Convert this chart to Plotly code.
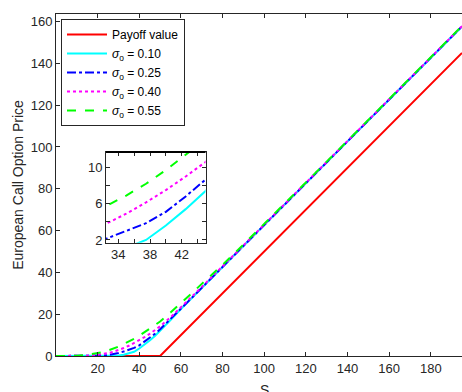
import plotly.graph_objects as go

# ---------------- data ----------------
S = [0, 5, 10, 15, 20, 22.5, 25, 27.5, 30, 32.5, 35, 37.5, 40, 42.5, 45, 47.5,
     50, 55, 60, 65, 70, 80, 90, 100, 120, 140, 160, 180, 195]

call_010 = [0, 0, 0, 0, 0, 0, 0.02, 0.1, 0.25, 0.6, 1.15, 2.0, 3.6, 5.4, 7.4, 9.6,
            12.0, 17.2, 22.4, 27.5, 32.5, 42.5, 52.6, 62.6, 82.6, 102.6, 122.6, 142.6, 157.6]
call_025 = [0, 0, 0, 0.02, 0.1, 0.2, 0.45, 0.8, 1.4, 2.15, 3.0, 3.85, 5.1, 6.8, 8.66, 10.6,
            12.8, 17.6, 22.6, 27.6, 32.6, 42.6, 52.6, 62.7, 82.7, 102.7, 122.7, 142.7, 157.7]
call_040 = [0, 0, 0.02, 0.15, 0.55, 0.9, 1.4, 2.0, 2.8, 3.8, 4.9, 6.15, 7.5, 9.0, 10.6, 12.3,
            14.2, 18.5, 23.5, 28.2, 33.0, 42.9, 52.8, 62.8, 82.8, 102.8, 122.8, 142.8, 157.8]
call_055 = [0, 0.01, 0.1, 0.5, 1.3, 1.9, 2.6, 3.5, 4.5, 5.75, 6.9, 8.2, 9.7, 11.3, 12.9, 14.7,
            16.5, 20.8, 25.2, 29.8, 34.5, 43.6, 53.3, 63.1, 83.0, 102.9, 122.9, 142.9, 157.9]

payoff_S = [0, 50, 195]
payoff_V = [0, 0, 145]

series_names = ["<i>σ</i><sub>o</sub> = 0.10", "<i>σ</i><sub>o</sub> = 0.25",
                "<i>σ</i><sub>o</sub> = 0.40", "<i>σ</i><sub>o</sub> = 0.55"]
series_values = [call_010, call_025, call_040, call_055]
series_colors = ["#00FFFF", "#0000FF", "#FF00FF", "#00FF00"]
series_dash = ["solid", "dashdot", "dot", "dash"]

main_xticks = [20, 40, 60, 80, 100, 120, 140, 160, 180]
main_yticks = [0, 20, 40, 60, 80, 100, 120, 140, 160]
inset_xticks = [34, 36, 38, 40, 42, 44]
inset_xtext = ["34", "", "38", "", "42", ""]
inset_yticks = [2, 4, 6, 8, 10]
inset_ytext = ["2", "", "6", "", "10"]

# ---------------- figure ----------------
AX = "#262626"
FONT = "Liberation Sans, Arial, Helvetica, sans-serif"
fig = go.Figure()

fig.add_trace(go.Scatter(x=payoff_S, y=payoff_V, mode="lines", name="Payoff value",
                         line=dict(color="#FF0000", width=2), legendgroup="g0",
                         xaxis="x", yaxis="y"))
for i, (nm, vals, col, dsh) in enumerate(zip(series_names, series_values, series_colors, series_dash)):
    fig.add_trace(go.Scatter(x=S, y=vals, mode="lines", name=nm,
                             line=dict(color=col, width=2, dash=dsh),
                             legendgroup="g%d" % (i + 1), xaxis="x", yaxis="y"))

# inset
fig.add_trace(go.Scatter(x=payoff_S, y=payoff_V, mode="lines", showlegend=False,
                         line=dict(color="#FF0000", width=2), xaxis="x2", yaxis="y2"))
for nm, vals, col, dsh in zip(series_names, series_values, series_colors, series_dash):
    fig.add_trace(go.Scatter(x=S, y=vals, mode="lines", showlegend=False,
                             line=dict(color=col, width=2, dash=dsh),
                             xaxis="x2", yaxis="y2"))

ix0 = (106 - 56) / 406
ix1 = (205.5 - 56) / 406
iy0 = (356 - 242.7) / 342
iy1 = (356 - 152) / 342

axis_common = dict(showgrid=False, zeroline=False, showline=True, linecolor=AX,
                   linewidth=1, ticks="inside", ticklen=4, tickcolor=AX,
                   tickfont=dict(family=FONT, size=13, color=AX))

fig.update_layout(
    width=462, height=392,
    margin=dict(l=56, r=0, t=14, b=36),
    paper_bgcolor="white", plot_bgcolor="white",
    font=dict(family=FONT, color=AX),
    xaxis=dict(range=[0, 195], tickvals=main_xticks, mirror="ticks", domain=[0, 1],
               **axis_common),
    yaxis=dict(range=[0, 163.6], tickvals=main_yticks, mirror=False, domain=[0, 1],
               title=dict(text="European Call Option Price",
                          font=dict(family=FONT, size=14, color=AX), standoff=3),
               **axis_common),
    xaxis2=dict(range=[32.45, 45.0], tickvals=inset_xticks, ticktext=inset_xtext,
                domain=[ix0, ix1], anchor="y2", mirror="ticks", **axis_common),
    yaxis2=dict(range=[1.7, 11.7], tickvals=inset_yticks, ticktext=inset_ytext,
                domain=[iy0, iy1], anchor="x2", mirror="ticks", **axis_common),
    legend=dict(x=(61 - 56) / 406, y=(356 - 19) / 342, xanchor="left", yanchor="top",
                bgcolor="white", bordercolor=AX, borderwidth=1,
                font=dict(family=FONT, size=12, color="black"),
                itemwidth=40, tracegroupgap=2, traceorder="normal"),
    showlegend=True,
    shapes=[dict(type="line", xref="paper", yref="paper", x0=ix0, x1=ix1, y0=iy1, y1=iy1,
                 line=dict(color="black", width=2))],
    annotations=[dict(text="S", xref="paper", yref="paper", x=(264 - 56) / 406,
                      y=-0.07, xanchor="center", yanchor="top", showarrow=False,
                      font=dict(family=FONT, size=14, color=AX))],
)

fig.write_html("out.html")
